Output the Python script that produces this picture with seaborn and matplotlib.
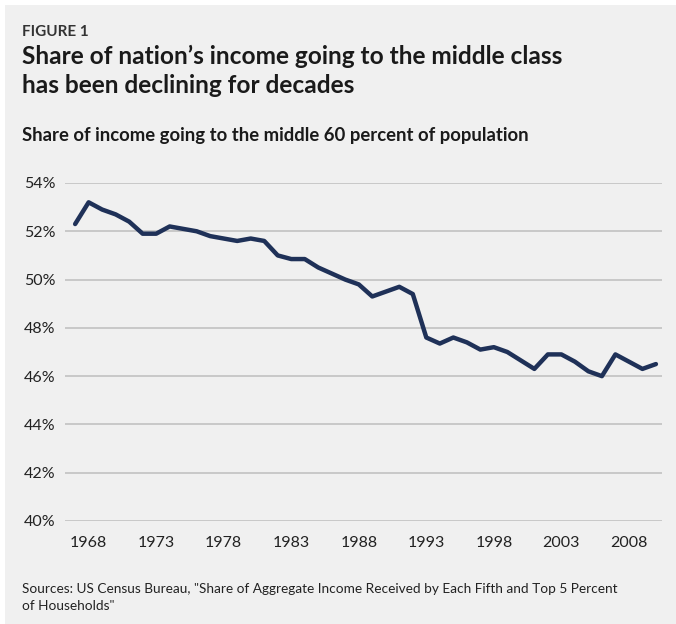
import matplotlib.pyplot as plt
import seaborn as sns
import pandas as pd
from matplotlib.patches import Rectangle

# Data
years = list(range(1967, 2011))
middle_share = [52.3, 53.2, 52.9, 52.7, 52.4, 51.9, 51.9, 52.2, 52.1, 52.0,
                51.8, 51.7, 51.6, 51.7, 51.6, 51.0, 50.85, 50.85, 50.5, 50.25,
                50.0, 49.8, 49.3, 49.5, 49.7, 49.4, 47.6, 47.35, 47.6, 47.4,
                47.1, 47.2, 47.0, 46.65, 46.3, 46.9, 46.9, 46.6, 46.2, 46.0,
                46.9, 46.6, 46.3, 46.5]
x_ticks = [1968, 1973, 1978, 1983, 1988, 1993, 1998, 2003, 2008]
y_ticks = [40, 42, 44, 46, 48, 50, 52, 54]

df = pd.DataFrame({"Year": years, "Share": middle_share})

sns.set_style("white")
plt.rcParams['font.family'] = ['Lato', 'DejaVu Sans']

bg = "#f0f0f0"
fig = plt.figure(figsize=(6.76, 6.24), dpi=100, facecolor="white")
# grey panel with thin white margin top/left
fig.patches.append(Rectangle((5 / 676, 0), 1, 1 - 5 / 624, transform=fig.transFigure,
                             facecolor=bg, edgecolor="none", zorder=-1))

ax = fig.add_axes([65 / 676, 103 / 624, (662 - 65) / 676, (521 - 183) / 624])
ax.set_facecolor(bg)

sns.lineplot(data=df, x="Year", y="Share", ax=ax, color="#1f3158", linewidth=3.2)

ax.set_ylim(40, 54)
ax.set_xlim(1966.25, 2010.45)
ax.set_yticks(y_ticks)
ax.set_yticklabels([f"{v}%" for v in y_ticks])
ax.set_xticks(x_ticks)
ax.set_xticklabels([str(v) for v in x_ticks])
ax.yaxis.grid(True, color="#c8c8c8", linewidth=1.4)
ax.xaxis.grid(False)
for s in ax.spines.values():
    s.set_visible(False)
ax.tick_params(axis="both", length=0, labelsize=11.5, colors="#222222")
ax.tick_params(axis="y", pad=7)
ax.tick_params(axis="x", pad=11)
ax.set_xlabel("")
ax.set_ylabel("")
for line in ax.lines:
    line.set_clip_on(False)

def fy(px):
    return 1 - px / 624

fig.text(22 / 676, fy(36), "FIGURE 1", fontsize=11, fontweight="bold", color="#333333")
fig.text(22 / 676, fy(64), "Share of nation\u2019s income going to the middle class",
         fontsize=17.6, fontweight="bold", color="#1a1a1a")
fig.text(22 / 676, fy(93), "has been declining for decades",
         fontsize=17.6, fontweight="bold", color="#1a1a1a")
fig.text(22 / 676, fy(141), "Share of income going to the middle 60 percent of population",
         fontsize=13.3, fontweight="bold", color="#1a1a1a")
fig.text(22 / 676, fy(593),
         "Sources: US Census Bureau, \"Share of Aggregate Income Received by Each Fifth and Top 5 Percent",
         fontsize=9.8, color="#222222")
fig.text(22 / 676, fy(610), "of Households\"", fontsize=9.8, color="#222222")

plt.savefig("out.png", dpi=100, facecolor="white")
